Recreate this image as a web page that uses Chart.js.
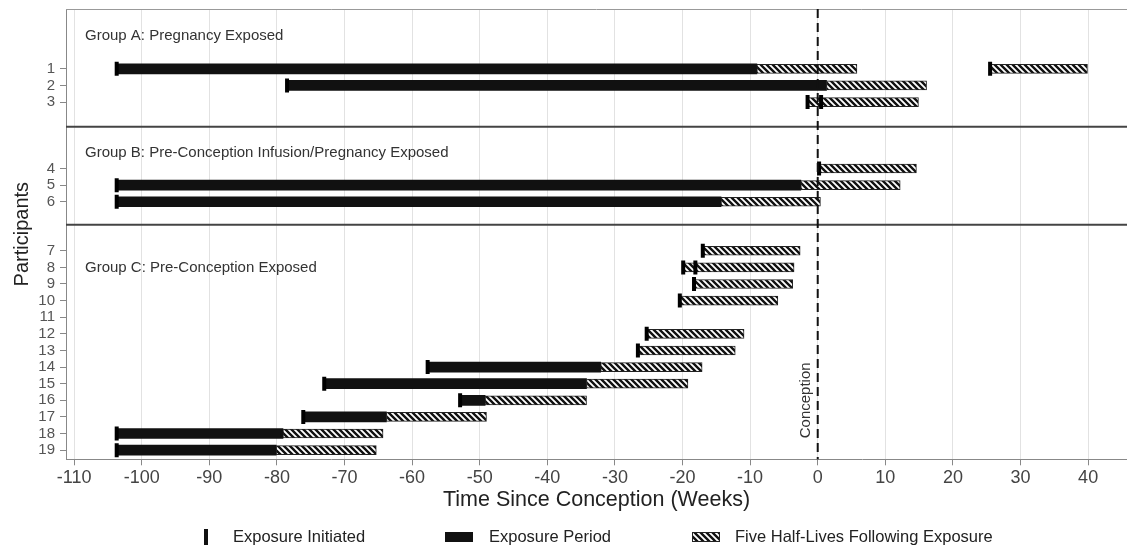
<!DOCTYPE html>
<html>
<head>
<meta charset="utf-8">
<script src="https://cdn.jsdelivr.net/npm/chart.js@4.4.1/dist/chart.umd.min.js"></script>
<style>
    html, body { margin: 0; padding: 0; background: #fff; overflow: hidden; }
    #wrap { width: 1127px; height: 554px; position: relative; }
    canvas { display: block; }
</style>
</head>
<body>
<div id="wrap"><canvas id="chart"></canvas></div>
<script>
// --- data ---
const participants = [1, 2, 3, 4, 5, 6, 7, 8, 9, 10, 11, 12, 13, 14, 15, 16, 17, 18, 19];
const participantGroup = [0, 0, 0, 1, 1, 1, 2, 2, 2, 2, 2, 2, 2, 2, 2, 2, 2, 2, 2];
const groupNames = [
    'Group A: Pregnancy Exposed',
    'Group B: Pre-Conception Infusion/Pregnancy Exposed',
    'Group C: Pre-Conception Exposed'
];

// one entry per exposure (weeks since conception)
const exposureParticipant = [1, 1, 2, 3, 3, 4, 5, 6, 7, 8, 8, 9, 10, 12, 13, 14, 15, 16, 17, 18, 19];
const exposureStart = [-103.7, 25.5, -78.5, -1.5, 0.5, 0.2, -103.7, -103.7, -17.0, -19.9, -18.1, -18.3, -20.4, -25.3, -26.6, -57.7, -73.0, -52.9, -76.1, -103.7, -103.7];
const exposureEnd = [-9.0, 25.5, 1.3, -1.5, 0.5, 0.2, -2.5, -14.3, -17.0, -19.9, -18.1, -18.3, -20.4, -25.3, -26.6, -32.1, -34.2, -49.2, -63.8, -79.1, -80.1];
const halfLifeEnd = [5.8, 39.9, 16.1, 0.5, 14.9, 14.6, 12.2, 0.4, -2.6, -18.1, -3.5, -3.7, -5.9, -10.9, -12.2, -17.1, -19.2, -34.2, -49.0, -64.3, -65.3];

const xTicks = [-110, -100, -90, -80, -70, -60, -50, -40, -30, -20, -10, 0, 10, 20, 30, 40];
const legendLabels = ['Exposure Initiated', 'Exposure Period', 'Five Half-Lives Following Exposure'];

// --- layout (row units on the y scale) ---
const GROUP_ROW_OFFSET = [2.6, 5.6, 7.55];
const GROUP_TITLE_POS = [1.61, 8.66, 15.55];
const SEPARATORS = [7.08, 12.99];
const Y_MAX = 27.1;
const FONT = "'Liberation Sans', Arial, sans-serif";
const LEGEND_X = [204, 445, 692];

const rowPos = p => p + GROUP_ROW_OFFSET[participantGroup[participants.indexOf(p)]];

function makeHatch() {
    const c = document.createElement('canvas');
    c.width = 6; c.height = 6;
    const g = c.getContext('2d');
    g.fillStyle = '#fff';
    g.fillRect(0, 0, 6, 6);
    g.strokeStyle = '#111';
    g.lineWidth = 2.4;
    g.beginPath();
    g.moveTo(-3, -3); g.lineTo(9, 9);
    g.moveTo(-3, 3); g.lineTo(3, 9);
    g.moveTo(3, -3); g.lineTo(9, 3);
    g.stroke();
    return g.createPattern(c, 'repeat');
}
const hatch = makeHatch();

const periodData = exposureParticipant.map((p, i) => ({ x: [exposureStart[i], exposureEnd[i]], y: rowPos(p) }));
const halfLifeData = exposureParticipant.map((p, i) => ({ x: [exposureEnd[i], halfLifeEnd[i]], y: rowPos(p) }));
const initData = exposureParticipant.map((p, i) => ({ x: exposureStart[i], y: rowPos(p) }));

// no extra padding for edge tick labels, so the plot fills the frame
const noEdgePadding = s => {
    s.paddingLeft = 0; s.paddingRight = 0;
    s.paddingTop = 0; s.paddingBottom = 0;
};

const decorations = {
    id: 'decorations',
    beforeDatasetsDraw(chart) {
        const { ctx, chartArea: a, scales: { x, y } } = chart;
        ctx.save();
        // top frame line
        ctx.strokeStyle = '#999';
        ctx.lineWidth = 1;
        ctx.beginPath();
        ctx.moveTo(a.left, a.top + 0.5);
        ctx.lineTo(a.right, a.top + 0.5);
        ctx.stroke();
        // group separators
        ctx.strokeStyle = '#444';
        ctx.lineWidth = 2;
        SEPARATORS.forEach(v => {
            const py = y.getPixelForValue(v);
            ctx.beginPath();
            ctx.moveTo(a.left, py);
            ctx.lineTo(a.right, py);
            ctx.stroke();
        });
        // group titles
        ctx.fillStyle = '#333';
        ctx.font = '15px ' + FONT;
        ctx.textBaseline = 'middle';
        groupNames.forEach((name, i) => {
            ctx.fillText(name, a.left + 19, y.getPixelForValue(GROUP_TITLE_POS[i]));
        });
        ctx.restore();
    },
    afterDatasetsDraw(chart) {
        const { ctx, chartArea: a, scales: { x, y } } = chart;
        const px = x.getPixelForValue(0);
        ctx.save();
        ctx.strokeStyle = '#111';
        ctx.lineWidth = 2;
        ctx.setLineDash([9, 5]);
        ctx.beginPath();
        ctx.moveTo(px, a.top);
        ctx.lineTo(px, a.bottom);
        ctx.stroke();
        ctx.setLineDash([]);
        // conception label
        ctx.translate(px - 12, y.getPixelForValue(23.55));
        ctx.rotate(-Math.PI / 2);
        ctx.fillStyle = '#333';
        ctx.font = '15px ' + FONT;
        ctx.textAlign = 'center';
        ctx.textBaseline = 'middle';
        ctx.fillText('Conception', 0, 0);
        ctx.restore();
    },
    afterDraw(chart) {
        const { ctx } = chart;
        ctx.save();
        ctx.font = '16.5px ' + FONT;
        ctx.textBaseline = 'middle';
        const textOffset = [29, 44, 43];
        const cy = 537;
        legendLabels.forEach((t, i) => {
            const lx = LEGEND_X[i];
            if (i === 0) {
                ctx.fillStyle = '#111';
                ctx.fillRect(lx, cy - 8, 4, 16);
            } else if (i === 1) {
                ctx.fillStyle = '#111';
                ctx.fillRect(lx, cy - 5, 28, 10);
            } else {
                ctx.fillStyle = hatch;
                ctx.fillRect(lx, cy - 5, 28, 10);
                ctx.strokeStyle = '#222';
                ctx.lineWidth = 1;
                ctx.strokeRect(lx + 0.5, cy - 4.5, 27, 9);
            }
            ctx.fillStyle = '#222';
            ctx.fillText(t, lx + textOffset[i], cy);
        });
        ctx.restore();
    }
};

new Chart(document.getElementById('chart'), {
    type: 'bar',
    data: {
        datasets: [
            {
                label: legendLabels[1],
                data: periodData,
                backgroundColor: '#111',
                borderWidth: 0,
                barThickness: 10,
                grouped: false,
                order: 3
            },
            {
                label: legendLabels[2],
                data: halfLifeData,
                backgroundColor: hatch,
                borderColor: '#222',
                borderWidth: 1,
                borderSkipped: false,
                barThickness: 9,
                grouped: false,
                order: 2
            },
            {
                type: 'scatter',
                label: legendLabels[0],
                data: initData,
                pointStyle: 'line',
                rotation: 90,
                radius: 7,
                borderWidth: 4,
                borderColor: '#000',
                order: 1
            }
        ]
    },
    options: {
        indexAxis: 'y',
        responsive: true,
        maintainAspectRatio: false,
        animation: false,
        layout: { autoPadding: false, padding: { top: 9, right: 0, left: 0, bottom: 0 } },
        plugins: { legend: { display: false }, tooltip: { enabled: false } },
        scales: {
            x: {
                type: 'linear',
                min: -111.2,
                max: 45.75,
                afterBuildTicks: s => { s.ticks = xTicks.map(v => ({ value: v })); },
                afterFit: s => { s.height = 94.7; noEdgePadding(s); },
                grid: { color: '#e2e2e2', tickColor: '#888', tickLength: 6 },
                border: { color: '#888' },
                ticks: { color: '#444', font: { family: FONT, size: 18 }, padding: 2, maxRotation: 0 },
                title: {
                    display: true,
                    text: 'Time Since Conception (Weeks)',
                    color: '#222',
                    font: { family: FONT, size: 21.5 },
                    padding: { top: 0, bottom: 41 }
                }
            },
            y: {
                type: 'linear',
                reverse: true,
                offset: false,
                min: 0,
                max: Y_MAX,
                afterBuildTicks: s => { s.ticks = participants.map(p => ({ value: rowPos(p) })); },
                afterFit: s => { s.width = 66; noEdgePadding(s); },
                grid: { offset: false, drawOnChartArea: false, tickColor: '#888', tickLength: 6 },
                border: { color: '#888' },
                ticks: {
                    color: '#555',
                    font: { family: FONT, size: 15 },
                    padding: 5,
                    autoSkip: false,
                    callback: (v, i) => String(participants[i])
                },
                title: {
                    display: true,
                    text: 'Participants',
                    color: '#222',
                    font: { family: FONT, size: 20 },
                    padding: { top: 10, bottom: 0 }
                }
            }
        }
    },
    plugins: [decorations]
});
</script>
</body>
</html>
